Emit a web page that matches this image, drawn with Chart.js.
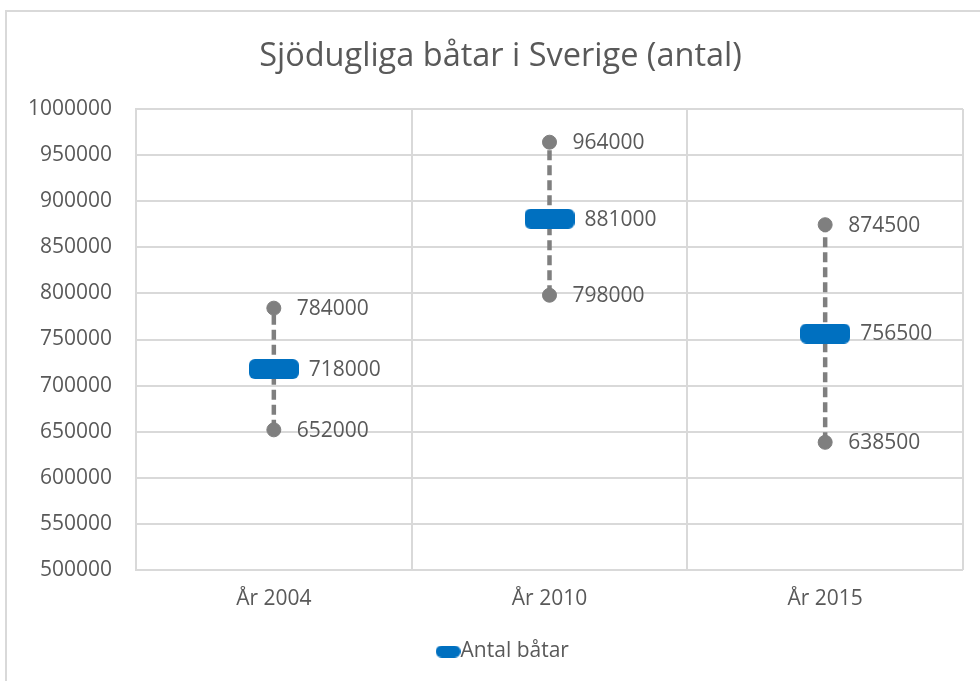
<!DOCTYPE html>
<html>
<head>
<meta charset="utf-8">
<script src="https://cdn.jsdelivr.net/npm/chart.js@4"></script>
<style>
  html, body { margin: 0; padding: 0; background: #fff; }
  #frame { position: absolute; left: 5px; top: 10px; width: 1000px; height: 700px; border: 2px solid #d9d9d9; }
  #wrap { position: absolute; left: 0; top: 0; width: 980px; height: 681px; }
</style>
</head>
<body>
<div id="frame"></div>
<div id="wrap"><canvas id="chart"></canvas></div>
<script>
// Sjödugliga båtar i Sverige – min / antal / max per år
const categories = ['År 2004', 'År 2010', 'År 2015'];
const countValues = [718000, 881000, 756500];
const highValues = [784000, 964000, 874500];
const lowValues = [652000, 798000, 638500];
const yMin = 500000, yMax = 1000000, yStep = 50000;

const TEXT = '#595959', GRID = '#d9d9d9', GREY = '#7f7f7f', BLUE = '#0070c0';

// rounded blue bar used as marker
function roundedMarker(w, h, r) {
  const c = document.createElement('canvas');
  c.width = w; c.height = h;
  const g = c.getContext('2d');
  g.fillStyle = BLUE;
  g.beginPath();
  g.roundRect(0, 0, w, h, r);
  g.fill();
  return c;
}
const bigMarker = roundedMarker(50, 20, 6);
const smallMarker = roundedMarker(25, 12, 6);

// dashed connector low -> high for each year
const connectors = categories.map((c, i) => ({
  data: [{ x: c, y: lowValues[i] }, { x: c, y: highValues[i] }],
  borderColor: GREY, borderWidth: 4.5, borderDash: [10, 5],
  pointRadius: 0, showLine: true, order: 3
}));

const valueLabels = {
  id: 'valueLabels',
  afterDatasetsDraw(chart) {
    const ctx = chart.ctx;
    ctx.save();
    ctx.font = '21px "Open Sans"';
    ctx.fillStyle = TEXT;
    ctx.textBaseline = 'middle';
    ctx.textAlign = 'left';
    chart.data.datasets.forEach((ds, i) => {
      if (!ds.labelDx) return;
      chart.getDatasetMeta(i).data.forEach((pt, j) => {
        ctx.fillText(String(ds.data[j]), pt.x + ds.labelDx, pt.y + 1);
      });
    });
    ctx.restore();
  }
};

// the original chart is wider than the crop, so title and legend sit right of centre
const boxShift = {
  id: 'boxShift',
  afterLayout(chart) {
    chart.legend.left += 26;
    chart.legend.right += 26;
    chart.titleBlock.left += 19;
    chart.titleBlock.right += 19;
  }
};

new Chart(document.getElementById('chart'), {
  type: 'line',
  data: {
    labels: categories,
    datasets: [
      {
        label: 'Antal båtar', data: countValues, showLine: false,
        pointStyle: bigMarker, order: 0, labelDx: 35
      },
      {
        label: 'Max', data: highValues, showLine: false,
        pointStyle: 'circle', pointRadius: 7, pointBackgroundColor: GREY, pointBorderColor: GREY,
        order: 1, labelDx: 23
      },
      {
        label: 'Min', data: lowValues, showLine: false,
        pointStyle: 'circle', pointRadius: 7, pointBackgroundColor: GREY, pointBorderColor: GREY,
        order: 1, labelDx: 23
      },
      ...connectors
    ]
  },
  options: {
    responsive: true,
    maintainAspectRatio: false,
    animation: false,
    layout: { padding: { top: 10, left: 0, right: 17, bottom: 9 } },
    plugins: {
      tooltip: { enabled: false },
      title: {
        display: true, text: 'Sjödugliga båtar i Sverige (antal)',
        color: TEXT, font: { family: 'Open Sans', size: 32.5, weight: 'normal' },
        padding: { top: 27, bottom: 33 }
      },
      legend: {
        position: 'bottom',
        labels: {
          color: TEXT, font: { family: 'Open Sans', size: 21 },
          usePointStyle: true, pointStyleWidth: 4, padding: 10,
          generateLabels: chart => [{
            text: 'Antal båtar', fillStyle: BLUE, strokeStyle: BLUE, lineWidth: 0,
            pointStyle: smallMarker, fontColor: TEXT, datasetIndex: 0, hidden: false
          }]
        }
      }
    },
    scales: {
      x: {
        offset: true,
        grid: { offset: true, color: GRID, lineWidth: 2, drawTicks: false },
        border: { display: false },
        ticks: { color: TEXT, font: { family: 'Open Sans', size: 21 }, padding: 16 },
        afterFit: s => { s.height = 61; }
      },
      y: {
        min: yMin, max: yMax,
        grid: { color: GRID, lineWidth: 2, drawTicks: false },
        border: { color: GRID, width: 2 },
        ticks: { stepSize: yStep, color: TEXT, font: { family: 'Open Sans', size: 21 }, padding: 24, callback: v => String(v) },
        afterFit: s => { s.width = 136; }
      }
    }
  },
  plugins: [valueLabels, boxShift]
});
</script>
</body>
</html>
